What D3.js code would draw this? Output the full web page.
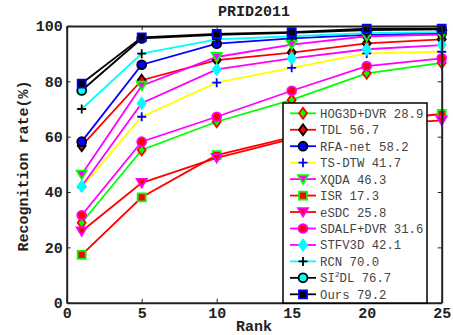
<!DOCTYPE html>
<html>
<head>
<meta charset="utf-8">
<title>PRID2011</title>
<script src="https://d3js.org/d3.v7.min.js"></script>
<style>
  body { margin: 0; background: #fff; }
  text { font-family: "Liberation Mono", "Courier New", monospace; }
</style>
</head>
<body>
<svg id="chart" width="453" height="335"></svg>
<script>
// ---------------- data ----------------
var ranks = [1, 5, 10, 15, 20, 25];
var names = ["HOG3D+DVR 28.9", "TDL 56.7", "RFA-net 58.2", "TS-DTW 41.7", "XQDA 46.3", "ISR 17.3",
             "eSDC 25.8", "SDALF+DVR 31.6", "STFV3D 42.1", "RCN 70.0", "SI2DL 76.7", "Ours 79.2"];
var hog3d  = [28.9, 55.2, 65.4, 73.3, 82.9, 86.7];
var tdl    = [56.7, 80.4, 87.7, 90.4, 93.7, 95.2];
var rfanet = [58.2, 86.0, 93.6, 95.5, 96.8, 97.4];
var tsdtw  = [41.7, 67.2, 79.5, 84.9, 90.1, 90.7];
var xqda   = [46.3, 78.4, 88.8, 93.3, 96.3, 96.9];
var isr    = [17.3, 38.1, 53.3, 59.8, 65.4, 68.2];
var esdc   = [25.8, 43.3, 52.3, 59.2, 64.2, 65.9];
var sdalf  = [31.6, 58.2, 67.2, 76.6, 85.5, 88.3];
var stfv3d = [42.1, 72.1, 84.3, 88.3, 91.6, 93.1];
var rcn    = [70.0, 90.0, 95.2, 96.3, 97.4, 97.8];
var si2dl  = [76.7, 95.5, 96.8, 97.5, 98.5, 98.8];
var ours   = [79.2, 95.9, 97.1, 97.8, 99.0, 99.0];
var xTicks = [0, 5, 10, 15, 20, 25];
var yTicks = [0, 20, 40, 60, 80, 100];

// style per series: line colour, marker, marker edge, marker fill
var styles = [
  {line: "#00ff00", m: "diamond", edge: "#ff0000", fill: "#00ff00"},
  {line: "#ff0000", m: "diamond", edge: "#000000", fill: "#ff0000"},
  {line: "#0000ff", m: "circle",  edge: "#000000", fill: "#0000ff"},
  {line: "#ffff00", m: "plus",    edge: "#0000ff", fill: "none"},
  {line: "#ff00ff", m: "tridown", edge: "#00ff00", fill: "#ff00ff"},
  {line: "#ff0000", m: "square",  edge: "#00ff00", fill: "#ff0000"},
  {line: "#ff0000", m: "tridown", edge: "#ff00ff", fill: "#ff0000"},
  {line: "#ff00ff", m: "circle",  edge: "#ff00ff", fill: "#ff0000"},
  {line: "#ff00ff", m: "diamond", edge: "#00ffff", fill: "#00ffff"},
  {line: "#00ffff", m: "plus",    edge: "#000000", fill: "none"},
  {line: "#000000", m: "circle",  edge: "#000000", fill: "#00ffff"},
  {line: "#000000", m: "square",  edge: "#0000ff", fill: "#000000"}
];
var values = [hog3d, tdl, rfanet, tsdtw, xqda, isr, esdc, sdalf, stfv3d, rcn, si2dl, ours];

var series = names.map(function(n, i) {
  return {name: n, vals: values[i], st: styles[i]};
});

// ---------------- scales ----------------
var svg = d3.select("#chart");
var x = d3.scaleLinear().domain([0, 25]).range([66.7, 441.7]);
var y = d3.scaleLinear().domain([0, 100]).range([302.7, 26]);

function markerPath(m) {
  if (m == "diamond") return "M0,-5.5L4,0L0,5.5L-4,0Z";
  if (m == "square") return "M-4,-4H4V4H-4Z";
  if (m == "tridown") return "M-5,-4H5L0,4.5Z";
  if (m == "plus") return "M-4.5,0H4.5M0,-4.5V4.5";
  return d3.symbol().type(d3.symbolCircle).size(62)();
}

// ---------------- lines + markers ----------------
var line = d3.line().x(function(d, i) { return x(ranks[i]); }).y(function(d) { return y(d); });

var g = svg.selectAll("g.series").data(series).enter().append("g").attr("class", "series");
g.append("path")
  .attr("d", function(d) { return line(d.vals); })
  .attr("fill", "none")
  .attr("stroke", function(d) { return d.st.line; })
  .attr("stroke-width", 1.8);
g.selectAll("path.mk")
  .data(function(d) { return d.vals.map(function(v, i) { return {v: v, r: ranks[i], st: d.st}; }); })
  .enter().append("path")
  .attr("class", "mk")
  .attr("transform", function(d) { return "translate(" + x(d.r) + "," + y(d.v) + ")"; })
  .attr("d", function(d) { return markerPath(d.st.m); })
  .attr("fill", function(d) { return d.st.fill; })
  .attr("stroke", function(d) { return d.st.edge; })
  .attr("stroke-width", 1.8);

// ---------------- axes ----------------
var fsz = "15px";
var axB = svg.append("g").attr("transform", "translate(0,302.7)")
  .call(d3.axisBottom(x).tickValues(xTicks).tickSize(-4).tickSizeOuter(0).tickPadding(5));
var axL = svg.append("g").attr("transform", "translate(66.7,0)")
  .call(d3.axisLeft(y).tickValues(yTicks).tickSize(-4).tickSizeOuter(0).tickPadding(4));
var axT = svg.append("g").attr("transform", "translate(0,26)")
  .call(d3.axisTop(x).tickValues(xTicks).tickSize(-4).tickSizeOuter(0).tickFormat(""));
var axR = svg.append("g").attr("transform", "translate(441.7,0)")
  .call(d3.axisRight(y).tickValues(yTicks).tickSize(-4).tickSizeOuter(0).tickFormat(""));
[axB, axL, axT, axR].forEach(function(a) {
  a.selectAll(".domain").attr("stroke", "#222").attr("stroke-width", 2);
  a.selectAll(".tick line").attr("stroke", "#222").attr("stroke-width", 1);
  a.selectAll(".tick text").attr("font-family", "Liberation Mono, Courier New, monospace")
    .attr("font-size", fsz).attr("font-weight", "bold").attr("fill", "#222");
});

// titles
svg.append("text").attr("x", 254).attr("y", 16).attr("text-anchor", "middle")
  .attr("font-size", fsz).attr("font-weight", "bold").attr("fill", "#222").text("PRID2011");
svg.append("text").attr("x", 254).attr("y", 331).attr("text-anchor", "middle")
  .attr("font-size", fsz).attr("font-weight", "bold").attr("fill", "#222").text("Rank");
svg.append("text").attr("transform", "translate(28,166) rotate(-90)").attr("text-anchor", "middle")
  .attr("font-size", fsz).attr("font-weight", "bold").attr("fill", "#222").text("Recognition rate(%)");

// ---------------- legend ----------------
var leg = svg.append("g");
leg.append("rect").attr("x", 283).attr("y", 103).attr("width", 144).attr("height", 200)
  .attr("fill", "#fff").attr("stroke", "#000").attr("stroke-width", 1.5);
var ly = d3.scaleLinear().domain([0, 11]).range([113.3, 294.3]);
var item = leg.selectAll("g.item").data(series).enter().append("g")
  .attr("transform", function(d, i) { return "translate(0," + ly(i) + ")"; });
item.append("line").attr("x1", 290).attr("x2", 316)
  .attr("stroke", function(d) { return d.st.line; }).attr("stroke-width", 1.8);
item.append("path").attr("transform", "translate(303,0)")
  .attr("d", function(d) { return markerPath(d.st.m); })
  .attr("fill", function(d) { return d.st.fill; })
  .attr("stroke", function(d) { return d.st.edge; })
  .attr("stroke-width", 1.8);
item.append("text").attr("x", 320).attr("y", 4.5).attr("font-size", "12.3px").attr("fill", "#444")
  .each(function(d) {
    var t = d3.select(this);
    if (d.name.indexOf("SI2DL") == 0) {
      t.append("tspan").text("SI");
      t.append("tspan").attr("dy", -5).attr("font-size", "8px").text("2");
      t.append("tspan").attr("dy", 5).text(d.name.slice(3));
    } else {
      t.text(d.name);
    }
  });
</script>
</body>
</html>
